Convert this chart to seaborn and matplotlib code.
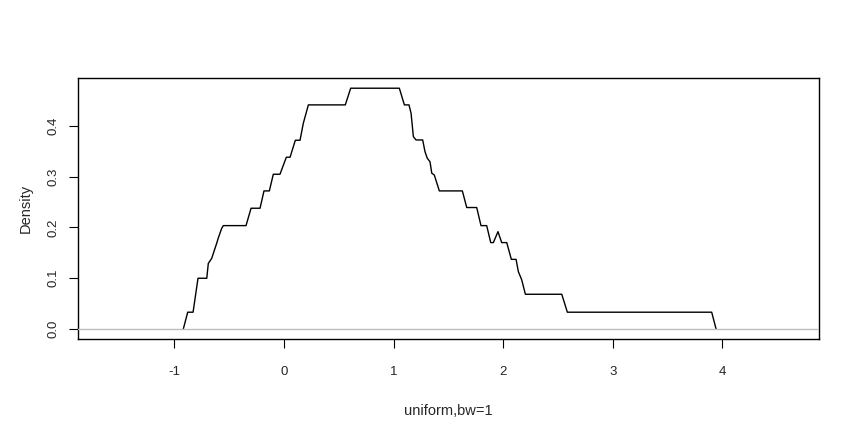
import seaborn as sns
import pandas as pd
import matplotlib.pyplot as plt

# breakpoints of the density curve
dens_x = [-0.918, -0.878, -0.829, -0.784, -0.704, -0.690, -0.659, -0.613, -0.599, -0.568,
          -0.553, -0.346, -0.300, -0.218, -0.182, -0.133, -0.097, -0.036, 0.022, 0.056,
          0.104, 0.147, 0.177, 0.223, 0.560, 0.609, 1.053, 1.099, 1.141, 1.160,
          1.181, 1.205, 1.266, 1.287, 1.308, 1.333, 1.349, 1.372, 1.418, 1.628,
          1.668, 1.759, 1.798, 1.850, 1.887, 1.911, 1.953, 1.987, 2.033, 2.075,
          2.118, 2.139, 2.170, 2.203, 2.535, 2.586, 3.903, 3.943]
dens_y = [0.0, 0.033, 0.033, 0.0998, 0.0998, 0.129, 0.139, 0.169, 0.179, 0.198,
          0.2034, 0.2034, 0.2376, 0.2376, 0.2717, 0.2717, 0.3045, 0.3045, 0.338, 0.338,
          0.3714, 0.3714, 0.405, 0.441, 0.441, 0.4738, 0.4738, 0.441, 0.441, 0.4246,
          0.3786, 0.372, 0.372, 0.349, 0.336, 0.329, 0.3065, 0.303, 0.2717, 0.2717,
          0.239, 0.239, 0.2034, 0.2034, 0.17, 0.17, 0.1915, 0.17, 0.17, 0.137,
          0.137, 0.1128, 0.0965, 0.0683, 0.0683, 0.033, 0.033, 0.0]

x_ticks = [-1, 0, 1, 2, 3, 4]
y_ticks = [0.0, 0.1, 0.2, 0.3, 0.4]

df = pd.DataFrame({"x": dens_x, "y": dens_y})

sns.set_style("ticks")
plt.rcParams["font.family"] = ["Liberation Sans", "DejaVu Sans"]

fig = plt.figure(figsize=(8.61, 4.37), dpi=100)
ax = fig.add_axes([0.0911, 0.2236, 0.8601, 0.5972])

sns.lineplot(data=df, x="x", y="y", ax=ax, color="black", linewidth=1.0,
             sort=False, estimator=None)
# grey zero line drawn over the curve, like abline(h=0)
ax.axhline(0, color="#bebebe", linewidth=1.0, zorder=5)

ax.set_xlim(-1.875, 4.882)
ax.set_ylim(-0.0203, 0.4933)
ax.set_xticks(x_ticks)
ax.set_xticklabels([str(t) for t in x_ticks])
ax.set_yticks(y_ticks)
ax.set_yticklabels([f"{t:.1f}" for t in y_ticks], rotation=90, va="center")

ax.tick_params(axis="both", length=6.5, width=0.8, color="black", labelsize=9.5)
ax.tick_params(axis="x", pad=12.5)
ax.tick_params(axis="y", pad=7)
for s in ax.spines.values():
    s.set_color("black")
    s.set_linewidth(1.0)

ax.set_xlabel("uniform,bw=1", fontsize=10.5, labelpad=19)
ax.set_ylabel("Density", fontsize=10.5, labelpad=11)

fig.savefig("out.png", dpi=100)
